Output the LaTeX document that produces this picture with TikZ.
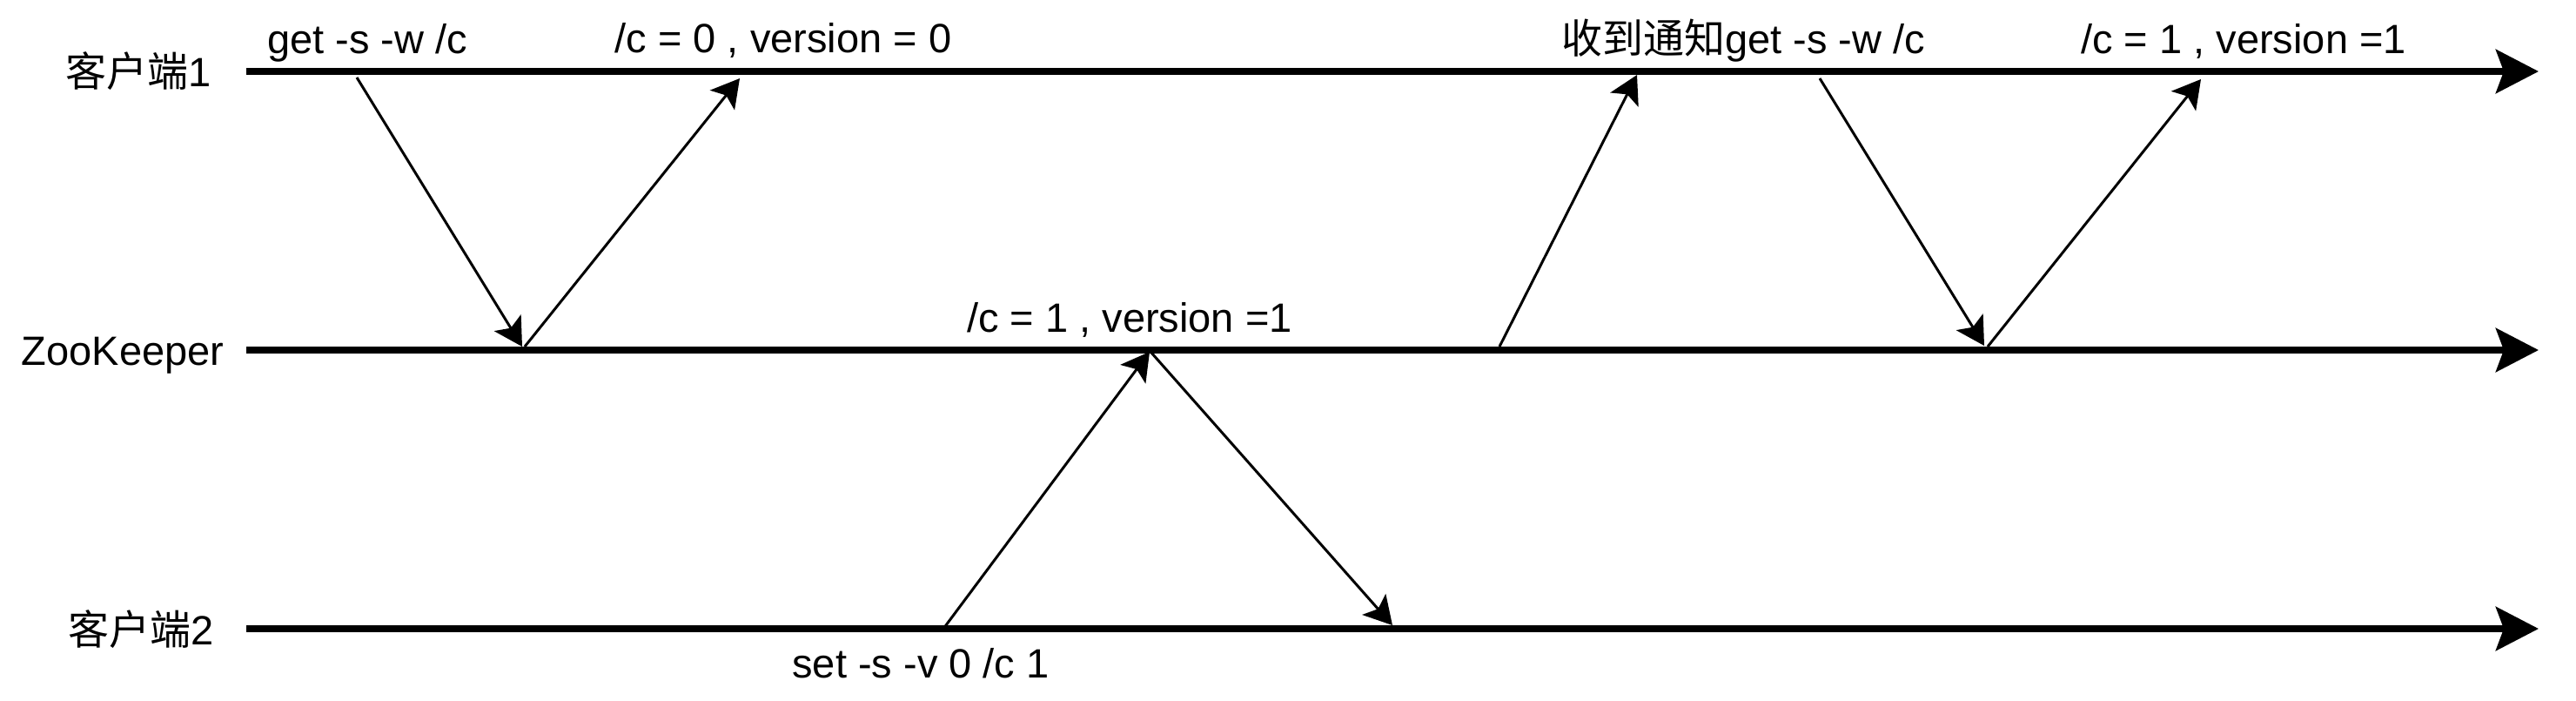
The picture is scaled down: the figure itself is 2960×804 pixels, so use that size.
\documentclass[tikz,border=0pt]{standalone}
\usepackage{fontspec}
\setmainfont{Liberation Sans}
\newfontfamily\cjk{Noto Sans CJK SC}
\usetikzlibrary{arrows.meta}
\begin{document}
\begin{tikzpicture}[x=0.5pt,y=-0.5pt,
  lifeline/.style={line width=4pt,-{Stealth[length=24.5pt,width=25pt,inset=4.5pt]}},
  msg/.style={line width=1.5pt,-{Stealth[length=16pt,width=18pt,inset=3.5pt]}},
  lbl/.style={inner sep=0pt,anchor=base,font=\fontsize{23.5pt}{28pt}\selectfont}]
\useasboundingbox (0,0) rectangle (2960,804);
% lifelines
\coordinate (l1s) at (283,82);   \coordinate (l1e) at (2917,82);
\coordinate (l2s) at (283,402);  \coordinate (l2e) at (2917,402);
\coordinate (l3s) at (283,722);  \coordinate (l3e) at (2917,722);
\draw[lifeline] (l1s) -- (l1e);
\draw[lifeline] (l2s) -- (l2e);
\draw[lifeline] (l3s) -- (l3e);
% lifeline labels
\node[lbl] (n1) at (159,99) {{\cjk 客户端}1};
\node[lbl] (nz) at (141,419) {ZooKeeper};
\node[lbl] (n2) at (162,740) {{\cjk 客户端}2};
% message labels
\node[lbl] (t1) at (422,61) {get -s -w /c};
\node[lbl] (t2) at (900,60) {/c = 0 , version = 0};
\node[lbl] (t3) at (2003,61) {{\cjk 收到通知}get -s -w /c};
\node[lbl] (t4) at (2578,61) {/c = 1 , version =1};
\node[lbl] (t5) at (1298,381) {/c = 1 , version =1};
\node[lbl] (t6) at (1058,778) {set -s -v 0 /c 1};
% message end points
\coordinate (a1s) at (410,89);   \coordinate (a1e) at (600,398);
\coordinate (a2s) at (603,398);  \coordinate (a2e) at (850,90);
\coordinate (a3s) at (1723,398); \coordinate (a3e) at (1881,86);
\coordinate (a4s) at (2091,90);  \coordinate (a4e) at (2280,397);
\coordinate (a5s) at (2284,398); \coordinate (a5e) at (2529,91);
\coordinate (a6s) at (1084,722); \coordinate (a6e) at (1321,404);
\coordinate (a7s) at (1323,405); \coordinate (a7e) at (1600,718);
\draw[msg] (a1s) -- (a1e);
\draw[msg] (a2s) -- (a2e);
\draw[msg] (a3s) -- (a3e);
\draw[msg] (a4s) -- (a4e);
\draw[msg] (a5s) -- (a5e);
\draw[msg] (a6s) -- (a6e);
\draw[msg] (a7s) -- (a7e);
\end{tikzpicture}
\end{document}
